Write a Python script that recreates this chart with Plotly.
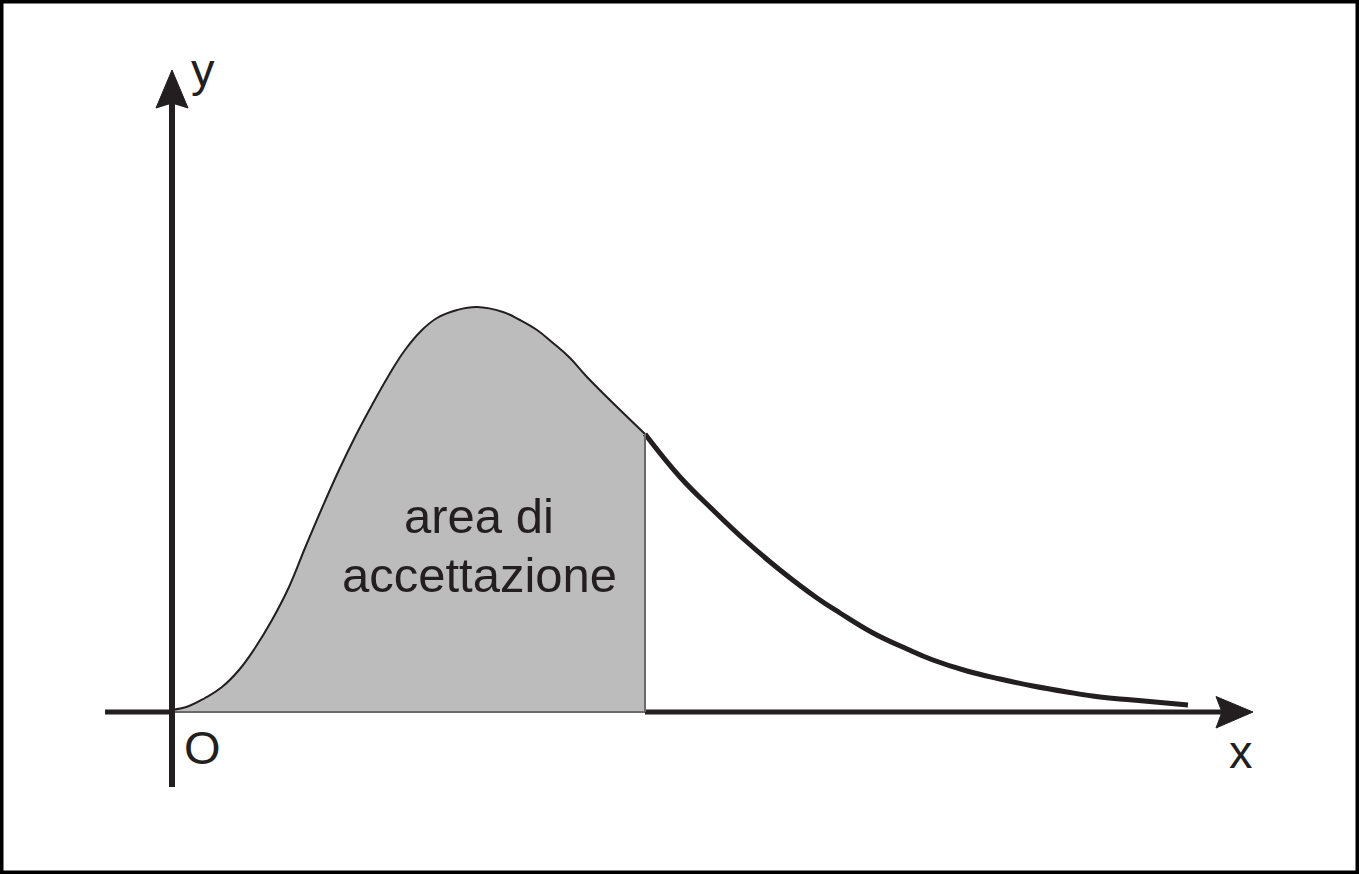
import plotly.graph_objects as go

# Curve values (arbitrary units, origin O at (0, 0))
curve_x = [0.00, 0.17, 0.33, 0.50, 0.67, 0.83, 1.00, 1.17, 1.33, 1.50, 1.67, 1.83, 2.00, 2.17,
           2.33, 2.50, 2.65, 2.85, 3.05, 3.31, 3.48, 3.65, 3.81, 3.98, 4.15, 4.73,
           5.08, 5.41, 5.75, 6.08, 6.45, 6.68, 7.01, 7.35, 7.61, 7.95, 8.28, 8.61, 8.95,
           9.28, 9.61, 10.16]
curve_y = [0.02, 0.06, 0.14, 0.25, 0.42, 0.64, 0.92, 1.25, 1.64, 2.04, 2.42, 2.75, 3.07, 3.37,
           3.62, 3.82, 3.94, 4.02, 4.05, 4.00, 3.92, 3.82, 3.69, 3.54, 3.35, 2.78,
           2.35, 2.02, 1.70, 1.42, 1.14, 0.99, 0.79, 0.63, 0.52, 0.41, 0.33, 0.26, 0.20,
           0.15, 0.12, 0.07]
critical_x = 4.73

area_lines = ["area di", "accettazione"]
x_label, y_label, origin_label = "x", "y", "O"

INK = "#231f20"
FILL = "#bcbcbc"
EDGE = "#6a6a6a"
FONT = "Liberation Sans, Arial, sans-serif"

shade_x = [x for x in curve_x if x <= critical_x]
shade_y = curve_y[:len(shade_x)]
tail_x = [x for x in curve_x if x >= critical_x]
tail_y = curve_y[len(curve_x) - len(tail_x):]
crit_y = curve_y[curve_x.index(critical_x)]

fig = go.Figure()

# shaded acceptance area
fig.add_trace(go.Scatter(
    x=shade_x, y=shade_y, mode="lines", fill="tozeroy", fillcolor=FILL,
    line=dict(color=INK, width=2, shape="spline", smoothing=1.2),
    hoverinfo="skip", showlegend=False))
# tail of the curve
fig.add_trace(go.Scatter(
    x=tail_x, y=tail_y, mode="lines",
    line=dict(color=INK, width=5, shape="spline", smoothing=1.2),
    hoverinfo="skip", showlegend=False))

shapes = [
    # frame
    dict(type="rect", xref="paper", yref="paper", x0=0, y0=0, x1=1, y1=1,
         line=dict(color="black", width=7), layer="above"),
    # x axis (left and right of the shaded part)
    dict(type="line", x0=-0.67, y0=0, x1=0, y1=0, line=dict(color=INK, width=5)),
    dict(type="line", x0=critical_x, y0=0, x1=10.5, y1=0, line=dict(color=INK, width=5)),
    # edges of the shaded area
    dict(type="line", x0=0, y0=0, x1=critical_x, y1=0, line=dict(color=EDGE, width=2)),
    dict(type="line", x0=critical_x, y0=0, x1=critical_x, y1=crit_y, line=dict(color=EDGE, width=2)),
    # y axis
    dict(type="line", x0=0, y0=-0.75, x1=0, y1=6.09, line=dict(color=INK, width=6)),
    # arrow heads
    dict(type="path", path="M 10.44,0.155 L 10.81,0 L 10.44,-0.16 L 10.50,0 Z",
         fillcolor=INK, line=dict(color=INK, width=1)),
    dict(type="path", path="M -0.16,6.04 L 0,6.42 L 0.16,6.04 L 0,6.09 Z",
         fillcolor=INK, line=dict(color=INK, width=1)),
]

annotations = [
    dict(x=3.07, y=1.96, text=area_lines[0], showarrow=False, xanchor="center", yanchor="middle",
         font=dict(family=FONT, size=49, color=INK)),
    dict(x=3.07, y=1.37, text=area_lines[1], showarrow=False, xanchor="center", yanchor="middle",
         font=dict(family=FONT, size=49, color=INK)),
    dict(x=0.31, y=6.43, text=y_label, showarrow=False, xanchor="center", yanchor="middle",
         font=dict(family=FONT, size=47, color=INK)),
    dict(x=10.69, y=-0.39, text=x_label, showarrow=False, xanchor="center", yanchor="middle",
         font=dict(family=FONT, size=47, color=INK)),
    dict(x=0.30, y=-0.35, text=origin_label, showarrow=False, xanchor="center", yanchor="middle",
         font=dict(family=FONT, size=47, color=INK)),
]

axis_common = dict(showgrid=False, zeroline=False, showticklabels=False, showline=False,
                   ticks="", fixedrange=True)
fig.update_layout(
    width=1359, height=874, margin=dict(l=0, r=0, t=0, b=0),
    paper_bgcolor="white", plot_bgcolor="white",
    xaxis=dict(range=[-1.72, 11.87], **axis_common),
    yaxis=dict(range=[-1.62, 7.12], **axis_common),
    shapes=shapes, annotations=annotations, showlegend=False,
)

fig.write_html(
    "out.html",
    config={"displayModeBar": False},
    post_script="document.body.style.margin='0';document.body.style.padding='0';"
                "document.body.style.overflow='hidden';",
)
